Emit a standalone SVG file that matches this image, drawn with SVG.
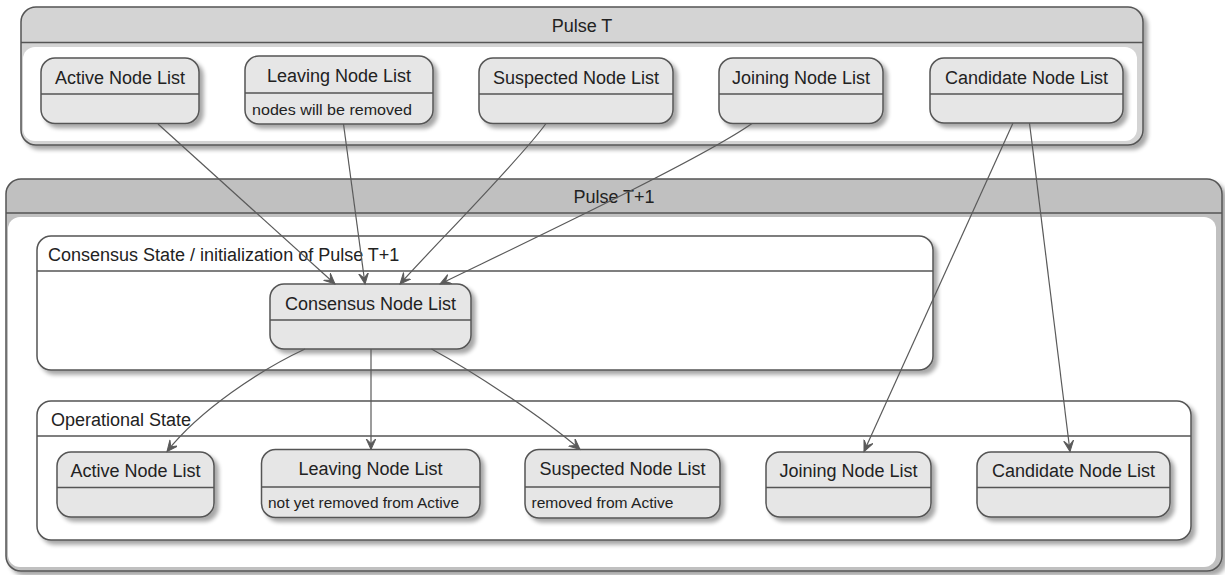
<svg xmlns="http://www.w3.org/2000/svg" width="1225" height="575" viewBox="0 0 1225 575">
  <style>
    .title { font-family: "Liberation Sans", Arial, sans-serif; font-size: 18px; fill: #222; }
    .note { font-family: "Liberation Sans", Arial, sans-serif; font-size: 15.5px; fill: #222; }
    .box { stroke: #555; stroke-width: 1.5; }
    .state { fill: #E6E6E6; stroke: #555; stroke-width: 1.5; }
    .sep { stroke: #555; stroke-width: 1.5; }
    .edge { fill: none; stroke: #5a5a5a; stroke-width: 1.2; marker-end: url(#arrow); }
  </style>
  <defs>
    <filter id="shadow" x="-10%" y="-10%" width="130%" height="140%">
      <feGaussianBlur in="SourceAlpha" stdDeviation="2"/>
      <feOffset dx="4" dy="4" result="o"/>
      <feComponentTransfer><feFuncA type="linear" slope="0.35"/></feComponentTransfer>
      <feMerge><feMergeNode/><feMergeNode in="SourceGraphic"/></feMerge>
    </filter>
    <marker id="arrow" markerUnits="userSpaceOnUse" markerWidth="14" markerHeight="12" refX="11" refY="5" orient="auto">
      <path d="M11,5 L0,0 L5,5 L0,10 Z" fill="#5a5a5a" stroke="#5a5a5a" stroke-width="1"/>
    </marker>
  </defs>

  <!-- Pulse T container -->
  <g id="pulse-t">
    <rect class="box" x="21" y="7" width="1122" height="138" rx="15" fill="#D4D4D4" filter="url(#shadow)"/>
    <rect x="23" y="47" width="1114" height="94" rx="12" fill="#fff"/>
    <line class="sep" x1="21" y1="42.5" x2="1143" y2="42.5"/>
    <text class="title" x="582" y="32" text-anchor="middle">Pulse T</text>
  </g>

  <!-- Pulse T+1 container -->
  <g id="pulse-t1">
    <rect class="box" x="6" y="179" width="1216" height="392" rx="15" fill="#C0C0C0" filter="url(#shadow)"/>
    <rect x="8" y="217" width="1208" height="350" rx="12" fill="#fff"/>
    <line class="sep" x1="6" y1="213" x2="1222" y2="213"/>
    <text class="title" x="614" y="203" text-anchor="middle">Pulse T+1</text>
  </g>

  <!-- Consensus State sub-container -->
  <g id="consensus-state">
    <rect class="box" x="37" y="236" width="896" height="134" rx="14" fill="#fff" filter="url(#shadow)"/>
    <line class="sep" x1="37" y1="271" x2="933" y2="271"/>
    <text class="title" x="48" y="261">Consensus State / initialization of Pulse T+1</text>
  </g>

  <!-- Operational State sub-container -->
  <g id="operational-state">
    <rect class="box" x="37" y="401" width="1154" height="139" rx="14" fill="#fff" filter="url(#shadow)"/>
    <line class="sep" x1="37" y1="436" x2="1191" y2="436"/>
    <text class="title" x="51" y="426">Operational State</text>
  </g>

  <!-- Pulse T lists -->
  <g id="t-active">
    <rect class="state" x="41" y="58" width="158" height="65.5" rx="14" filter="url(#shadow)"/>
    <line class="sep" x1="41" y1="94" x2="199" y2="94"/>
    <text class="title" x="120" y="84" text-anchor="middle">Active Node List</text>
  </g>
  <g id="t-leaving">
    <rect class="state" x="245" y="56" width="188" height="68" rx="14" filter="url(#shadow)"/>
    <line class="sep" x1="245" y1="93" x2="433" y2="93"/>
    <text class="title" x="339" y="82" text-anchor="middle">Leaving Node List</text>
    <text class="note" x="252" y="114.5" textLength="160" lengthAdjust="spacingAndGlyphs">nodes will be removed</text>
  </g>
  <g id="t-suspected">
    <rect class="state" x="479" y="58" width="194" height="65.5" rx="14" filter="url(#shadow)"/>
    <line class="sep" x1="479" y1="94" x2="673" y2="94"/>
    <text class="title" x="576" y="84" text-anchor="middle">Suspected Node List</text>
  </g>
  <g id="t-joining">
    <rect class="state" x="719" y="58" width="164" height="65.5" rx="14" filter="url(#shadow)"/>
    <line class="sep" x1="719" y1="94" x2="883" y2="94"/>
    <text class="title" x="801" y="84" text-anchor="middle">Joining Node List</text>
  </g>
  <g id="t-candidate">
    <rect class="state" x="930" y="58" width="193" height="65" rx="14" filter="url(#shadow)"/>
    <line class="sep" x1="930" y1="94" x2="1123" y2="94"/>
    <text class="title" x="1026.5" y="84" text-anchor="middle">Candidate Node List</text>
  </g>

  <!-- Consensus list -->
  <g id="consensus-list">
    <rect class="state" x="270" y="284" width="201" height="65" rx="14" filter="url(#shadow)"/>
    <line class="sep" x1="270" y1="320" x2="471" y2="320"/>
    <text class="title" x="370.5" y="310" text-anchor="middle">Consensus Node List</text>
  </g>

  <!-- Operational lists -->
  <g id="op-active">
    <rect class="state" x="57" y="452" width="157" height="65" rx="14" filter="url(#shadow)"/>
    <line class="sep" x1="57" y1="487.5" x2="214" y2="487.5"/>
    <text class="title" x="135.5" y="477" text-anchor="middle">Active Node List</text>
  </g>
  <g id="op-leaving">
    <rect class="state" x="261.5" y="449.5" width="218.5" height="68" rx="14" filter="url(#shadow)"/>
    <line class="sep" x1="261.5" y1="487" x2="480" y2="487"/>
    <text class="title" x="370.5" y="475" text-anchor="middle">Leaving Node List</text>
    <text class="note" x="268" y="508" textLength="191" lengthAdjust="spacingAndGlyphs">not yet removed from Active</text>
  </g>
  <g id="op-suspected">
    <rect class="state" x="525" y="449.5" width="195" height="68.5" rx="14" filter="url(#shadow)"/>
    <line class="sep" x1="525" y1="487" x2="720" y2="487"/>
    <text class="title" x="622.5" y="475" text-anchor="middle">Suspected Node List</text>
    <text class="note" x="531.5" y="508" textLength="142" lengthAdjust="spacingAndGlyphs">removed from Active</text>
  </g>
  <g id="op-joining">
    <rect class="state" x="766" y="452" width="165" height="65" rx="14" filter="url(#shadow)"/>
    <line class="sep" x1="766" y1="487.5" x2="931" y2="487.5"/>
    <text class="title" x="848.5" y="477" text-anchor="middle">Joining Node List</text>
  </g>
  <g id="op-candidate">
    <rect class="state" x="977" y="452" width="193" height="65" rx="14" filter="url(#shadow)"/>
    <line class="sep" x1="977" y1="487.5" x2="1170" y2="487.5"/>
    <text class="title" x="1073.5" y="477" text-anchor="middle">Candidate Node List</text>
  </g>

  <!-- Transitions -->
  <g id="connectors">
    <path class="edge" d="M158,124 L335,284"/>
    <path class="edge" d="M343.5,124 L365,284"/>
    <path class="edge" d="M546,123.5 C520,160 430,250 400,284"/>
    <path class="edge" d="M752,123.5 C700,160 520,245 440,284"/>
    <path class="edge" d="M1013,123 L864,451.5"/>
    <path class="edge" d="M1029.5,123 L1070,451.5"/>
    <path class="edge" d="M305,349 C260,370 200,410 167,451.5"/>
    <path class="edge" d="M371,349 L371,449.5"/>
    <path class="edge" d="M431.5,349 C470,370 540,415 580,449.5"/>
  </g>
</svg>
